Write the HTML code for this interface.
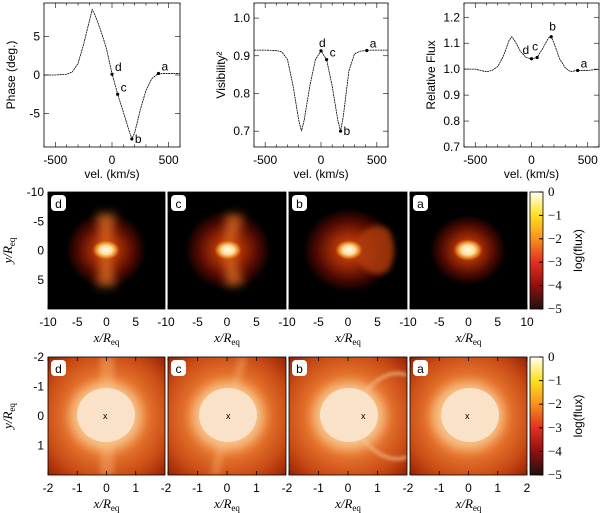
<!DOCTYPE html>
<html><head><meta charset="utf-8"><style>
body{margin:0;background:#fff;width:600px;height:513px;overflow:hidden}
svg{display:block;font-family:"Liberation Sans",sans-serif}
.t{font-size:12px}
.it{font-family:"Liberation Serif",serif;font-style:italic;font-size:13px}
.cbt{font-family:"Liberation Serif",serif;font-size:13px}
</style></head><body>
<svg id="fig" width="600" height="513" viewBox="0 0 600 513">
<defs>
<filter id="bl3" x="-50%" y="-50%" width="200%" height="200%"><feGaussianBlur stdDeviation="3"/></filter>
<filter id="bl5" x="-50%" y="-50%" width="200%" height="200%"><feGaussianBlur stdDeviation="5"/></filter>
<filter id="bl2" x="-50%" y="-50%" width="200%" height="200%"><feGaussianBlur stdDeviation="1.5"/></filter>
<radialGradient id="halo"><stop offset="0" stop-color="#d05010"/><stop offset="0.35" stop-color="#a02c06"/><stop offset="0.7" stop-color="#500a02"/><stop offset="1" stop-color="#000"/></radialGradient>
<radialGradient id="core"><stop offset="0" stop-color="#fff8e8"/><stop offset="0.45" stop-color="#ffe0a0"/><stop offset="0.75" stop-color="#f8a030" stop-opacity="0.7"/><stop offset="1" stop-color="#e06010" stop-opacity="0"/></radialGradient>
<radialGradient id="zbg" cx="0.5" cy="0.5" r="0.72"><stop offset="0" stop-color="#f8a050"/><stop offset="0.45" stop-color="#e87830"/><stop offset="0.75" stop-color="#c84a14"/><stop offset="1" stop-color="#901e04"/></radialGradient>
<linearGradient id="cbar" x1="0" y1="0" x2="0" y2="1"><stop offset="0" stop-color="#fffff0"/><stop offset="0.2" stop-color="#ffe020"/><stop offset="0.4" stop-color="#f89020"/><stop offset="0.6" stop-color="#e03020"/><stop offset="0.8" stop-color="#901010"/><stop offset="1" stop-color="#201010"/></linearGradient>
</defs>
<!-- image row 1 -->
<g>
<g><svg x="48" y="192" width="117" height="117"><rect width="117" height="117" fill="#000"/><ellipse cx="58" cy="58" rx="40" ry="38" fill="url(#halo)"/><polygon points="56,58 60,58 68,22 48,22" fill="#e87828" opacity="0.75" filter="url(#bl5)"/><polygon points="56,58 60,58 68,94 48,94" fill="#e87828" opacity="0.75" filter="url(#bl5)"/><ellipse cx="58" cy="58" rx="14" ry="10" fill="url(#core)"/></svg></g>
<g><svg x="168" y="192" width="118" height="117"><rect width="118" height="117" fill="#000"/><ellipse cx="60" cy="58" rx="43" ry="40" fill="url(#halo)"/><polygon points="58,58 62,58 76,24 58,22" fill="#e87828" opacity="0.75" filter="url(#bl5)"/><polygon points="58,58 62,58 76,92 58,94" fill="#e87828" opacity="0.75" filter="url(#bl5)"/><ellipse cx="60" cy="58" rx="14" ry="10" fill="url(#core)"/></svg></g>
<g><svg x="289" y="192" width="118" height="117"><rect width="118" height="117" fill="#000"/><ellipse cx="60" cy="58" rx="46" ry="42" fill="url(#halo)"/><path d="M62,58 Q80,24 100,38 Q110,58 100,78 Q80,92 62,58Z" fill="#b03c0c" opacity="0.8" filter="url(#bl3)"/><ellipse cx="60" cy="58" rx="14" ry="10" fill="url(#core)"/></svg></g>
<g><svg x="410" y="192" width="117" height="117"><rect width="117" height="117" fill="#000"/><ellipse cx="58" cy="58" rx="38" ry="35" fill="url(#halo)"/><ellipse cx="58" cy="58" rx="15" ry="11" fill="url(#core)"/></svg></g>
</g>
<!-- image row 2 -->
<g>
<g><svg x="48" y="357" width="117" height="118"><rect width="117" height="118" fill="url(#zbg)"/><rect x="52" y="0" width="14" height="118" fill="#f8b070" opacity="0.45" filter="url(#bl3)"/><ellipse cx="58" cy="59" rx="36" ry="34" fill="#f8c890" opacity="0.9" filter="url(#bl5)"/><ellipse cx="58" cy="58" rx="29" ry="27" fill="#f9e2c8"/><text x="55" y="62" font-size="9">x</text></svg></g>
<g><svg x="168" y="357" width="118" height="118"><rect width="118" height="118" fill="url(#zbg)"/><polygon points="56,59 70,0 80,0 62,59 52,118 42,118" fill="#f8b070" opacity="0.4" filter="url(#bl3)"/><ellipse cx="60" cy="59" rx="36" ry="34" fill="#f8c890" opacity="0.9" filter="url(#bl5)"/><ellipse cx="60" cy="58" rx="29" ry="27" fill="#f9e2c8"/><text x="58" y="62" font-size="9">x</text></svg></g>
<g><svg x="289" y="357" width="118" height="118"><rect width="118" height="118" fill="url(#zbg)"/><path d="M72,40 Q95,10 118,18" stroke="#f0b080" stroke-width="4" fill="none" opacity="0.7" filter="url(#bl2)"/><path d="M72,80 Q95,108 118,100" stroke="#f0b080" stroke-width="4" fill="none" opacity="0.7" filter="url(#bl2)"/><ellipse cx="60" cy="59" rx="36" ry="34" fill="#f8c890" opacity="0.9" filter="url(#bl5)"/><ellipse cx="60" cy="58" rx="29" ry="27" fill="#f9e2c8"/><text x="72" y="62" font-size="9">x</text></svg></g>
<g><svg x="410" y="357" width="117" height="118"><rect width="117" height="118" fill="url(#zbg)"/><ellipse cx="58" cy="59" rx="36" ry="34" fill="#f8c890" opacity="0.9" filter="url(#bl5)"/><ellipse cx="60" cy="58" rx="29" ry="27" fill="#f9e2c8"/><text x="55" y="62" font-size="9">x</text></svg></g>
</g>
</svg>
<script>
const vels=[-600,-500,-400,-350,-300,-250,-200,-175,-150,-100,-50,0,50,100,150,175,200,250,300,350,400,450,500,600];
const phase=[0,0,0.1,0.4,1.5,4,7,8.5,7.8,5.8,3.5,0.2,-2.5,-4.8,-7.2,-8.3,-7.5,-4.5,-2,-0.5,0.1,0.2,0.2,0.2];
const vis2=[0.915,0.915,0.914,0.91,0.89,0.82,0.73,0.70,0.73,0.82,0.89,0.913,0.89,0.82,0.73,0.70,0.74,0.86,0.905,0.912,0.914,0.915,0.915,0.915];
const flux=[1.0,1.0,0.99,0.995,1.01,1.05,1.11,1.125,1.11,1.07,1.045,1.04,1.045,1.08,1.12,1.125,1.10,1.04,1.005,0.99,0.995,0.995,0.995,1.0];
const markLabels=['d','c','b','a'];
const markVels=[0,50,175,410];
const phaseMarks=[0.1,-2.5,-8.3,0.2];
const visMarks=[0.913,0.89,0.70,0.914];
const fluxMarks=[1.04,1.045,1.125,0.995];
const phaseTicks=[5,0,-5];
const visTicks=[1.0,0.9,0.8,0.7];
const fluxTicks=[1.2,1.1,1.0,0.9,0.8,0.7];
const velTicks=[-500,0,500];
const imgTicks=[-10,-5,0,5];
const zoomTicks=[-2,-1,0,1];
const cbTicks=[0,-1,-2,-3,-4,-5];
const NS='http://www.w3.org/2000/svg';
const fig=document.getElementById('fig');
function mk(tag,at,parent,txt){const e=document.createElementNS(NS,tag);for(const k in at)e.setAttribute(k,at[k]);if(txt!==undefined)e.textContent=txt;(parent||fig).appendChild(e);return e;}
const panels=[
 {x0:44,x1:180,ymin:-9.35,ymax:9.35,ys:phase,ms:phaseMarks,ticks:phaseTicks,fmt:v=>v,lab:'Phase (deg.)',name:'phase'},
 {x0:254,x1:388,ymin:0.658,ymax:1.04,ys:vis2,ms:visMarks,ticks:visTicks,fmt:v=>v.toFixed(1),lab:'Visibility²',name:'visibility'},
 {x0:464,x1:599,ymin:0.70,ymax:1.255,ys:flux,ms:fluxMarks,ticks:fluxTicks,fmt:v=>v.toFixed(1),lab:'Relative Flux',name:'flux'}];
const y0=3,y1=147;
panels.forEach(p=>{
 const g=mk('g',{});
 
 
 const X=v=>p.x0+(v+600)/1200*(p.x1-p.x0);
 const Y=v=>y1-(v-p.ymin)/(p.ymax-p.ymin)*(y1-y0);
 mk('rect',{x:p.x0,y:y0,width:p.x1-p.x0,height:y1-y0,fill:'none',stroke:'#000','stroke-width':0.8},g);
 for(let v=-600;v<=600;v+=100){const L=(v%500===0)?5:2.5;mk('line',{x1:X(v),x2:X(v),y1:y1,y2:y1-L,stroke:'#000','stroke-width':0.6},g);mk('line',{x1:X(v),x2:X(v),y1:y0,y2:y0+L,stroke:'#000','stroke-width':0.6},g);}
 velTicks.forEach(v=>{const t=mk('text',{x:X(v),y:164,'text-anchor':'middle',class:'t'},g,v);});
 p.ticks.forEach(v=>{mk('line',{x1:p.x0,x2:p.x0+5,y1:Y(v),y2:Y(v),stroke:'#000','stroke-width':0.6},g);mk('line',{x1:p.x1,x2:p.x1-5,y1:Y(v),y2:Y(v),stroke:'#000','stroke-width':0.6},g);
  const t=mk('text',{x:p.x0-4,y:Y(v)+4,'text-anchor':'end',class:'t'},g,p.fmt(v));});
 const xl=mk('text',{x:(p.x0+p.x1)/2,y:178,'text-anchor':'middle',class:'t'},g,'vel. (km/s)');
 
 const yl=mk('text',{x:0,y:0,'text-anchor':'middle',class:'t',transform:`translate(${p.x0-29},75) rotate(-90)`},g,p.lab);
 
 const pl=mk('polyline',{points:vels.map((v,i)=>X(v)+','+Y(p.ys[i])).join(' '),fill:'none',stroke:'#000','stroke-width':0.8,'stroke-dasharray':'2 0.6'},g);
 
 markVels.forEach((v,i)=>{const c=mk('circle',{cx:X(v),cy:Y(p.ms[i]),r:1.6,fill:'#000'},g);
  let dx=3,dy=-3;if(markLabels[i]==='b'){dx=p.name==='flux'?-2:3;dy=p.name==='flux'?-6:4;}
  if(p.name==='flux'&&markLabels[i]==='d'){dx=-9;dy=-5;} if(p.name==='flux'&&markLabels[i]==='c'){dx=-5;dy=-7;}
  if(p.name==='visibility'&&markLabels[i]==='d'){dx=-2;dy=-4;}
  const t=mk('text',{x:X(v)+dx,y:Y(p.ms[i])+dy,class:'t'},g,markLabels[i]);});
});
const px=[[48,165],[168,286],[289,407],[410,527]];
const letters=['d','c','b','a'];
function imgAxes(top,bot,ticks,lim){
 px.forEach((r,j)=>{
  const X=v=>r[0]+(v+lim)/(2*lim)*(r[1]-r[0]);
  mk('rect',{x:r[0],y:top,width:r[1]-r[0],height:bot-top,fill:'none',stroke:'#000','stroke-width':0.8});
  const all=ticks.concat(j===3?[lim]:[]);
  all.forEach(v=>{const t=mk('text',{x:X(v)-(v===-lim&&j>0?2:0),y:bot+17,'text-anchor':'middle',class:'t'},fig,v);
   mk('line',{x1:X(v),x2:X(v),y1:bot,y2:bot-4,stroke:'#000','stroke-width':0.8});mk('line',{x1:X(v),x2:X(v),y1:top,y2:top+4,stroke:'#000','stroke-width':0.8});});
  const xl=mk('text',{x:(r[0]+r[1])/2,y:bot+33,'text-anchor':'middle',class:'it'},fig);
  
  xl.innerHTML='x/R<tspan font-size="9" style="font-style:normal" dy="3">eq</tspan>';
  mk('rect',{x:r[0]+3,y:top+3,width:15,height:16,rx:4,fill:'#fff'});
  const lt=mk('text',{x:r[0]+10.5,y:top+16,'text-anchor':'middle',class:'t','font-size':'14'},fig,letters[j]);
  
 });
 const Y=v=>top+(v+lim)/(2*lim)*(bot-top);
 ticks.forEach(v=>{const t=mk('text',{x:44,y:Y(v)+4,'text-anchor':'end',class:'t'},fig,v);});
 const yl=mk('text',{x:0,y:0,'text-anchor':'middle',class:'it',transform:`translate(12,${(top+bot)/2}) rotate(-90)`},fig);
 
 yl.innerHTML='y/R<tspan font-size="9" style="font-style:normal" dy="3">eq</tspan>';
 const cb=mk('rect',{x:530,y:top,width:13,height:bot-top,fill:'url(#cbar)',stroke:'#000','stroke-width':0.8});
 
 cbTicks.forEach(v=>{const yy=top+(-v)/5*(bot-top);mk('line',{x1:543,x2:539,y1:yy,y2:yy,stroke:'#000'});
  const t=mk('text',{x:548,y:yy+4,class:'cbt'},fig,v===0?'0':'−'+(-v));});
 const cl=mk('text',{x:0,y:0,'text-anchor':'middle',class:'t',transform:`translate(582,${(top+bot)/2}) rotate(-90)`},fig,'log(flux)');
 
}
imgAxes(192,309,imgTicks,10);
imgAxes(357,475,zoomTicks,2);
</script>
</body></html>
